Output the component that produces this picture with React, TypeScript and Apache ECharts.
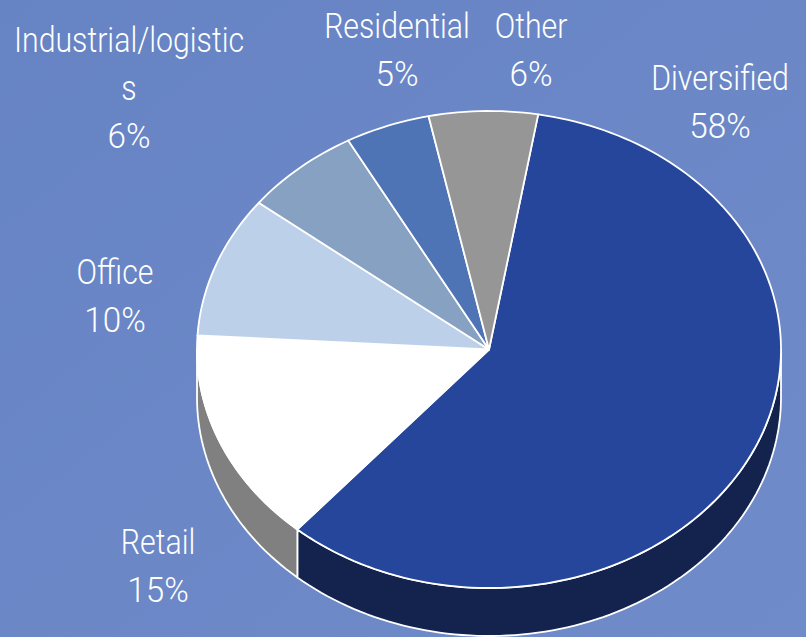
import React, { useEffect, useRef } from "react";
import * as echarts from "echarts";

const categories = ["Diversified", "Retail", "Office", "Industrial/logistics", "Residential", "Other"];
const values = [58.7, 14.55, 9.6, 6.45, 4.69, 6.01];
const percentLabels = ["58%", "15%", "10%", "6%", "5%", "6%"];
const wrappedNames = ["Diversified", "Retail", "Office", "Industrial/logistic\ns", "Residential", "Other"];

const faceColors = ["#25469A", "#FFFFFF", "#BDD0EA", "#86A1C1", "#4F74B5", "#969696"];
const sideColors = ["#14234D", "#808080", "#5F6875", "#434F60", "#27395A", "#4B4B4B"];
const labelAnchors: [number, number][] = [
  [720, 54], [158, 518], [115, 248], [129, 16], [397, 2], [531, 2],
];

const CX = 489, CY = 349.5, RX = 292, RY = 238.5, DEPTH = 48, START_DEG = 9.7;
const LINE = 48;
const total = values.reduce((a, b) => a + b, 0);
const rad = (d: number) => (d * Math.PI) / 180;
const px = (d: number) => CX + RX * Math.sin(rad(d));
const py = (d: number) => CY - RY * Math.cos(rad(d));

function arc(a0: number, a1: number, dy = 0): number[][] {
  const n = Math.max(2, Math.ceil(Math.abs(a1 - a0) / 1.5));
  const pts: number[][] = [];
  for (let i = 0; i <= n; i++) {
    const d = a0 + ((a1 - a0) * i) / n;
    pts.push([px(d), py(d) + dy]);
  }
  return pts;
}

function renderItem(params: any, api: any) {
  const i = params.dataIndex;
  const before = values.slice(0, i).reduce((a, b) => a + b, 0);
  const a0 = START_DEG + (before / total) * 360;
  const a1 = a0 + (api.value(0) / total) * 360;
  const children: any[] = [];
  const s0 = Math.max(a0, 90);
  const s1 = Math.min(a1, 270);
  if (s1 > s0) {
    children.push({
      type: "polygon",
      shape: { points: [...arc(s0, s1), ...arc(s1, s0, DEPTH)] },
      style: { fill: sideColors[i], stroke: "#FFFFFF", lineWidth: 1.8, lineJoin: "round" },
    });
  }
  children.push({
    type: "polygon",
    shape: { points: [[CX, CY], ...arc(a0, a1)] },
    style: { fill: faceColors[i], stroke: "#FFFFFF", lineWidth: 1.8, lineJoin: "round" },
  });
  return { type: "group", children };
}

const textStyle = (text: string) => ({
  text,
  fill: "#FFFFFF",
  font: '300 35px Roboto, "Liberation Sans", sans-serif',
  lineHeight: LINE,
  align: "center",
  verticalAlign: "top",
});

export default function App() {
  const ref = useRef<HTMLDivElement>(null);
  useEffect(() => {
    const chart = echarts.init(ref.current!, undefined, { renderer: "svg" });
    chart.setOption({
      animation: false,
      backgroundColor: new echarts.graphic.LinearGradient(0, 0, 1, 1, [
        { offset: 0, color: "#6683C4" },
        { offset: 1, color: "#708BC9" },
      ]),
      series: [
        {
          type: "custom",
          coordinateSystem: "none",
          renderItem,
          data: values.map((v, i) => ({ name: categories[i], value: [v] })),
          silent: true,
        },
      ],
      graphic: wrappedNames.flatMap((name, i) => [
        {
          type: "text",
          x: labelAnchors[i][0],
          y: labelAnchors[i][1],
          scaleX: 0.865,
          silent: true,
          style: textStyle(name),
        },
        {
          type: "text",
          x: labelAnchors[i][0],
          y: labelAnchors[i][1] + LINE * name.split("\n").length,
          scaleX: 0.95,
          silent: true,
          style: textStyle(percentLabels[i]),
        },
      ]),
    });
    return () => chart.dispose();
  }, []);
  return <div ref={ref} style={{ position: "fixed", left: 0, top: 0, width: 806, height: 637 }} />;
}
